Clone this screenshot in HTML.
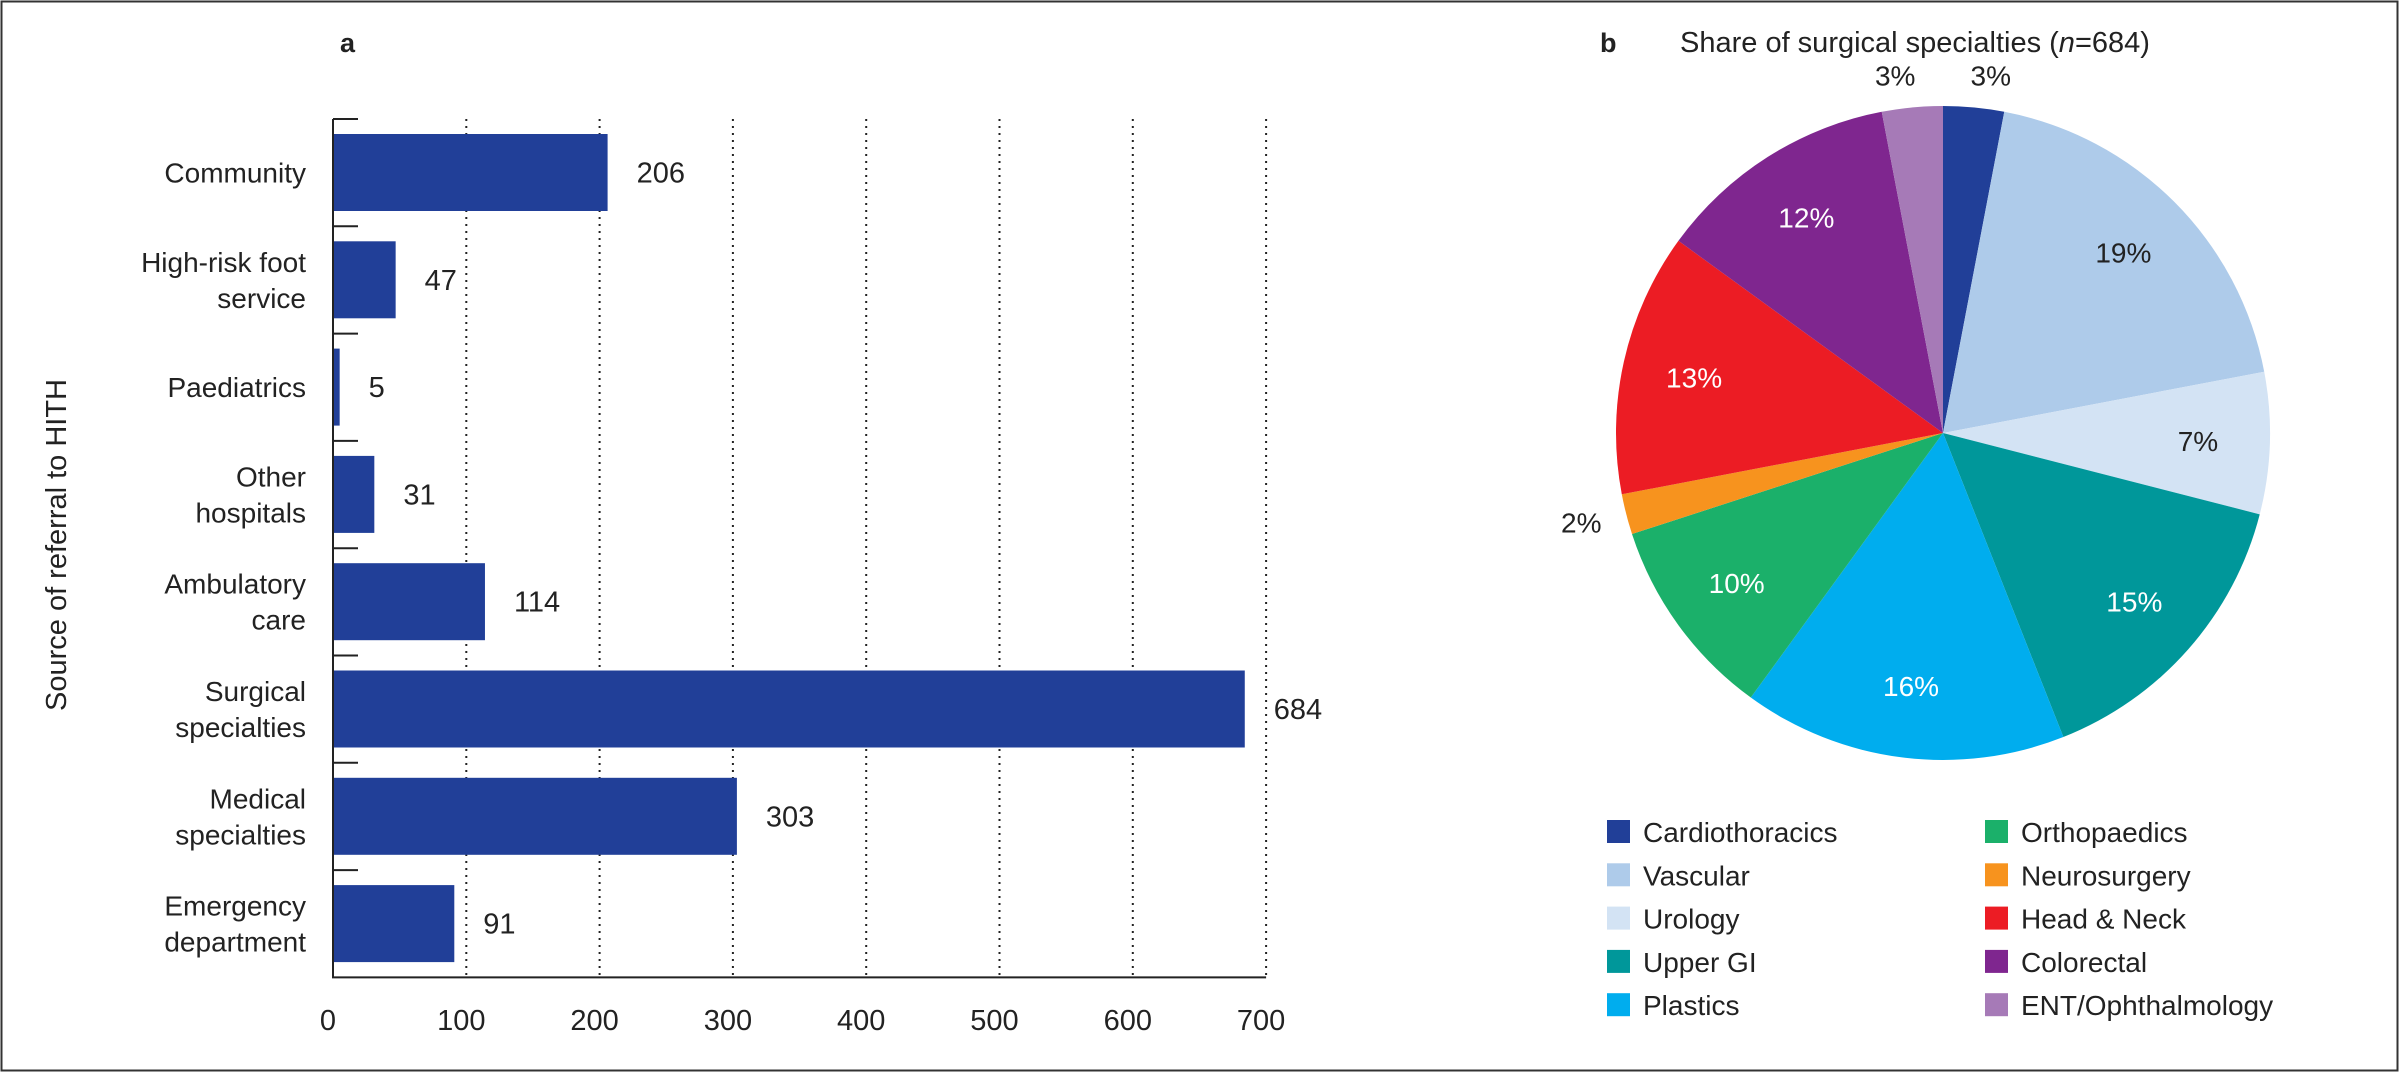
<!DOCTYPE html>
<html><head><meta charset="utf-8"><style>
html,body{margin:0;padding:0;background:#fff}
svg{display:block;font-family:"Liberation Sans",sans-serif}
</style></head><body>
<svg width="2399" height="1072" viewBox="0 0 2399 1072">
<rect x="1.5" y="1.5" width="2396" height="1069" fill="#fff" stroke="#333" stroke-width="2"/>
<g id="barChart"></g>
<g id="pieChart"></g>
</svg>
<script>
const NS="http://www.w3.org/2000/svg";
function mk(t,a,p){const e=document.createElementNS(NS,t);for(const k in a)e.setAttribute(k,a[k]);p.appendChild(e);return e;}

// ---- bar chart data ----
const barCategories=[["Community"],["High-risk foot","service"],["Paediatrics"],["Other","hospitals"],["Ambulatory","care"],["Surgical","specialties"],["Medical","specialties"],["Emergency","department"]];
const barValues=[206,47,5,31,114,684,303,91];
const xTicks=[0,100,200,300,400,500,600,700];

const bg=document.getElementById('barChart');
const X0=333,PX=133.3/100,TOP=119,BAND=107.3,BOT=TOP+BAND*8;
const xs=v=>X0+v*PX;
const yb=i=>TOP+i*BAND;

let t=mk('text',{x:340,y:52,'font-size':27,'font-weight':'bold',fill:'#222'},bg);t.textContent='a';



xTicks.forEach(v=>{
  if(v>0){const l=mk('line',{x1:xs(v),x2:xs(v),y1:TOP,y2:BOT,stroke:'#222','stroke-width':2,'stroke-dasharray':'2,5'},bg);
  
  }
  const tx=mk('text',{x:xs(v)-5,y:1030,'font-size':29,'text-anchor':'middle',fill:'#222'},bg);tx.textContent=v;
  
  
});
for(let i=0;i<=8;i++){
  if(i<8){const tk=mk('line',{x1:X0,x2:X0+25,y1:yb(i),y2:yb(i),stroke:'#222','stroke-width':2},bg);
  
  }
}
barValues.forEach((v,i)=>{
  const y0=yb(i)+15,h=77;
  const r=mk('rect',{x:X0,y:y0,width:xs(v)-X0,height:h,fill:'#213f98'},bg);
  
  
  const vl=mk('text',{x:xs(v)+29,y:y0+h/2+10,'font-size':29,fill:'#222'},bg);vl.textContent=v;
  
  
  const lines=barCategories[i];
  const cy=y0+h/2;
  lines.forEach((s,j)=>{
    const ly=cy+10+(j-(lines.length-1)/2)*36;
    const c=mk('text',{x:306,y:ly,'font-size':28,'text-anchor':'end',fill:'#222'},bg);c.textContent=s;
    
    
  });
});
const ax=mk('path',{d:`M${X0},${TOP} V${BOT} H${xs(700)}`,fill:'none',stroke:'#222','stroke-width':2},bg);


const yt=mk('text',{x:0,y:0,'font-size':29,'text-anchor':'middle',fill:'#222',transform:'translate(66,545) rotate(-90)'},bg);yt.textContent='Source of referral to HITH';



// ---- pie data ----
const pieLabels=["Cardiothoracics","Vascular","Urology","Upper GI","Plastics","Orthopaedics","Neurosurgery","Head & Neck","Colorectal","ENT/Ophthalmology"];
const pieValues=[3,19,7,15,16,10,2,13,12,3];
const pieColors=["#213f98","#aecbea","#d3e3f4","#00979a","#00adee","#1bb06a","#f7931e","#ec1c24","#7f268f","#a67ab7"];
const pieTextColors=["#222","#222","#222","#fff","#fff","#fff","#222","#fff","#fff","#222"];

const pg=document.getElementById('pieChart');
const CX=1943,CY=433,R=327;
let tb=mk('text',{x:1600,y:52,'font-size':27,'font-weight':'bold',fill:'#222'},pg);tb.textContent='b';


let tt=mk('text',{x:1680,y:52,'font-size':29,fill:'#222'},pg);
tt.innerHTML='Share of surgical specialties (<tspan font-style="italic">n</tspan>=684)';


const total=pieValues.reduce((a,b)=>a+b,0);
let acc=0;
const pt=a=>[CX+R*Math.sin(a),CY-R*Math.cos(a)];
pieValues.forEach((v,i)=>{
  const a0=acc/total*2*Math.PI;acc+=v;const a1=acc/total*2*Math.PI;
  const [x0,y0]=pt(a0),[x1,y1]=pt(a1);
  const p=mk('path',{d:`M${CX},${CY} L${x0},${y0} A${R},${R} 0 ${a1-a0>Math.PI?1:0} 1 ${x1},${y1} Z`,fill:pieColors[i]},pg);
  
  
  const am=(a0+a1)/2;
  const small=v<5;
  const rr=small?R+32:R*0.78;
  const lx=CX+rr*Math.sin(am)+(small?(Math.sin(am)>0?14:-14):0),ly=CY-rr*Math.cos(am)+10;
  const lab=mk('text',{x:lx,y:ly,'font-size':28,'text-anchor':'middle',fill:small?'#222':pieTextColors[i]},pg);
  lab.textContent=v+'%';
  
  
});
pieLabels.forEach((s,i)=>{
  const col=i<5?0:1,row=i%5;
  const x=col?1985:1607,y=832+row*43.3;
  const sq=mk('rect',{x:x,y:y-12,width:23,height:23,fill:pieColors[i]},pg);
  
  
  const lt=mk('text',{x:x+36,y:y+10,'font-size':28,fill:'#222'},pg);lt.textContent=s;
  
  
});
</script>
</body></html>
